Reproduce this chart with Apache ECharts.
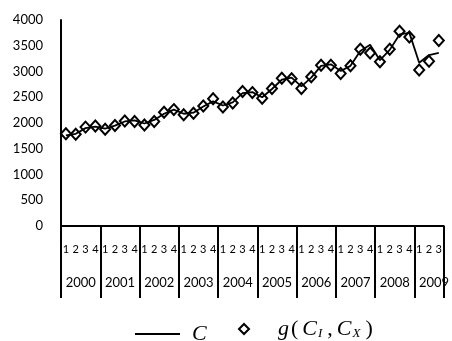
<!DOCTYPE html>
<html>
<head>
<meta charset="utf-8">
<script src="https://cdn.jsdelivr.net/npm/echarts@6/dist/echarts.min.js"></script>
<style>
  html, body { margin: 0; padding: 0; background: #fff; }
  #chart { width: 452px; height: 341px; }
</style>
</head>
<body>
<div id="chart"></div>
<script>
// quarters 2000 Q1 .. 2009 Q3
const years = ['2000', '2001', '2002', '2003', '2004', '2005', '2006', '2007', '2008', '2009'];
const quarters = ['1', '2', '3', '4'];
const quarterLabels = [];
const yearLabels = [];
years.forEach((y) => {
  quarters.forEach((q) => {
    if (y === '2009' && q === '4') return;
    quarterLabels.push(q);
    yearLabels.push(y);
  });
});

const cValues = [
  1760, 1790, 1900, 1930, 1890, 1950, 2030, 2050, 1990, 2060,
  2180, 2260, 2180, 2200, 2320, 2420, 2340, 2400, 2580, 2600,
  2500, 2660, 2840, 2880, 2710, 2880, 3110, 3140, 3010, 3110,
  3400, 3520, 3220, 3420, 3720, 3750, 3170, 3320, 3360
];
const gValues = [
  1790, 1780, 1920, 1940, 1880, 1950, 2040, 2030, 1960, 2030,
  2210, 2260, 2160, 2190, 2330, 2470, 2310, 2390, 2610, 2590,
  2480, 2670, 2870, 2860, 2670, 2900, 3120, 3120, 2960, 3110,
  3430, 3360, 3190, 3430, 3780, 3670, 3030, 3200, 3600
];
const yMin = 0;
const yMax = 4000;
const yStep = 500;

const chart = echarts.init(document.getElementById('chart'));

const serif = 'Liberation Serif';
const options = {
  animation: false,
  grid: { left: 61, right: 2, top: 20, bottom: 115 },
  xAxis: [
    {
      type: 'category',
      data: quarterLabels,
      axisLine: { lineStyle: { color: '#000', width: 2 } },
      axisTick: { show: false },
      axisLabel: { interval: 0, fontSize: 11, margin: 18, color: '#000', fontFamily: 'Lato' },
    },
    {
      type: 'category',
      data: yearLabels,
      position: 'bottom',
      axisLine: { show: false },
      axisTick: {
        show: true,
        interval: (i) => i % 4 === 0,
        length: 72,
        lineStyle: { color: '#000', width: 2 },
      },
      axisLabel: {
        interval: (i) => i % 4 === 1,
        fontSize: 13,
        margin: 50,
        color: '#000',
        fontFamily: 'Lato',
        padding: [0, 0, 0, 10],
      },
    },
  ],
  yAxis: {
    type: 'value',
    min: yMin,
    max: yMax,
    interval: yStep,
    axisLine: { show: true, lineStyle: { color: '#000', width: 2 } },
    axisTick: { show: false },
    splitLine: { show: false },
    axisLabel: {
      fontSize: 13,
      margin: 18,
      color: '#000',
      fontFamily: 'Lato',
      formatter: (v) => String(v),
    },
  },
  legend: [
    {
      data: [{ name: 'C', icon: 'rect' }],
      left: 135,
      top: 323,
      padding: 0,
      itemWidth: 45,
      itemHeight: 2,
      formatter: () => '{c|C}',
      textStyle: {
        rich: {
          c: { fontFamily: serif, fontStyle: 'italic', fontSize: 22, color: '#000', padding: [0, 0, 0, 7] },
        },
      },
    },
    {
      data: ['g'],
      left: 238,
      top: 318,
      padding: 0,
      itemWidth: 10,
      itemHeight: 10,
      formatter: () => '{g|g}{p|(}{t|C}{s|I}{p|,}{t|C}{s|X}{p|)}',
      textStyle: {
        rich: {
          g: { fontFamily: serif, fontStyle: 'italic', fontSize: 22, color: '#000', padding: [0, 0, 0, 24] },
          p: { fontFamily: serif, fontSize: 22, color: '#000', padding: [0, 2, 0, 2] },
          t: { fontFamily: serif, fontStyle: 'italic', fontSize: 22, color: '#000', padding: [0, 0, 0, 2] },
          s: { fontFamily: serif, fontStyle: 'italic', fontSize: 13, color: '#000', verticalAlign: 'bottom', padding: [0, 3, 0, 1] },
        },
      },
    },
  ],
  series: [
    {
      name: 'C',
      type: 'line',
      data: cValues,
      symbol: 'none',
      lineStyle: { color: '#000', width: 1.8 },
      itemStyle: { color: '#000' },
    },
    {
      name: 'g',
      type: 'scatter',
      data: gValues,
      symbol: 'diamond',
      symbolSize: [10, 11],
      itemStyle: { color: '#fff', borderColor: '#000', borderWidth: 2, opacity: 1 },
    },
  ],
};

chart.setOption(options);
</script>
</body>
</html>
